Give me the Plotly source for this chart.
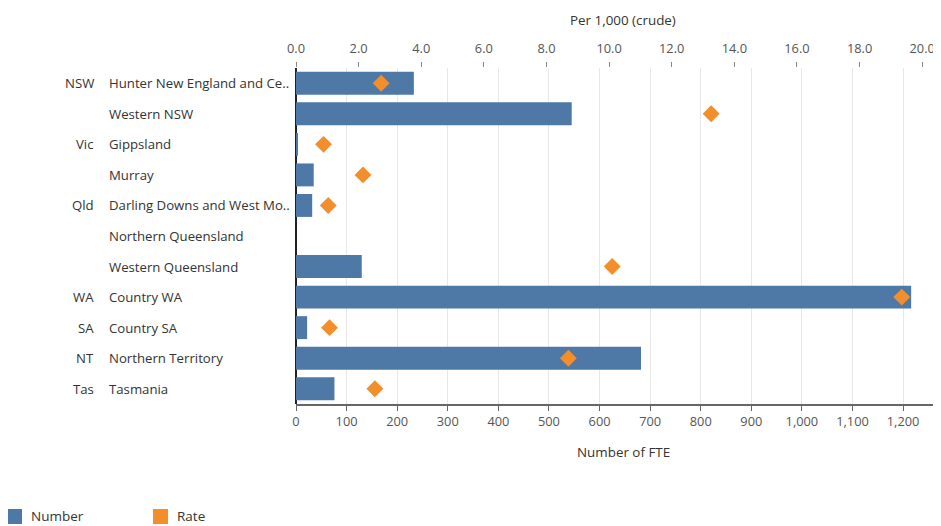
import plotly.graph_objects as go

states = ["NSW", "", "Vic", "", "Qld", "", "", "WA", "SA", "NT", "Tas"]
regions = ["Hunter New England and Ce..", "Western NSW", "Gippsland", "Murray",
           "Darling Downs and West Mo..", "Northern Queensland", "Western Queensland",
           "Country WA", "Country SA", "Northern Territory", "Tasmania"]
number_fte = [233, 545, 3, 35, 32, None, 130, 1216, 22, 682, 76]
rate_per_1000 = [2.72, 13.26, 0.88, 2.14, 1.03, None, 10.1, 19.35, 1.07, 8.7, 2.52]

BLUE = "#4E79A7"
ORANGE = "#F28E2B"
FONT = "Open Sans"

fig = go.Figure()
fig.add_trace(go.Bar(y=regions, x=number_fte, orientation="h", marker_color=BLUE,
                     marker_line_width=0, width=0.75, xaxis="x", yaxis="y",
                     name="Number", showlegend=False))
fig.add_trace(go.Scatter(y=regions, x=rate_per_1000, mode="markers", xaxis="x2", yaxis="y",
                         marker=dict(symbol="diamond", size=13, color=ORANGE),
                         name="Rate", showlegend=False))

# page body has an 8px margin; work in page pixels and convert
OFF = 8
W, H = 941 - OFF, 526 - OFF
L, R, T, B = 296 - OFF, 940 - OFF, 68 - OFF, 404 - OFF
pw = R - L
ph = B - T

def px(xpage):
    return (xpage - OFF - L) / pw

def py(ypage):
    return (B - (ypage - OFF)) / ph

annotations = []
for s, r in zip(states, regions):
    annotations.append(dict(x=px(107), y=r, xref="paper", yref="y", text=r,
                            showarrow=False, xanchor="left", yanchor="middle",
                            font=dict(family=FONT, size=13.2, color="#333")))
    if s:
        annotations.append(dict(x=px(96), y=r, xref="paper", yref="y", text=s,
                                showarrow=False, xanchor="right", yanchor="middle",
                                font=dict(family=FONT, size=13.2, color="#333")))
# axis titles
annotations.append(dict(x=px(623), y=py(20), xref="paper", yref="paper",
                        text="Per 1,000 (crude)", showarrow=False,
                        xanchor="center", yanchor="middle",
                        font=dict(family=FONT, size=13.4, color="#333")))
annotations.append(dict(x=px(623), y=py(452), xref="paper", yref="paper",
                        text="Number of FTE", showarrow=False,
                        xanchor="center", yanchor="middle",
                        font=dict(family=FONT, size=13.4, color="#333")))
# legend
shapes = []
for lx, label, col in [(7, "Number", BLUE), (153, "Rate", ORANGE)]:
    shapes.append(dict(type="rect", xref="paper", yref="paper",
                       x0=px(lx), x1=px(lx + 15),
                       y0=py(524), y1=py(509),
                       fillcolor=col, line_width=0))
    annotations.append(dict(x=px(lx + 22), y=py(516), xref="paper", yref="paper",
                            text=label, showarrow=False, xanchor="left", yanchor="middle",
                            font=dict(family=FONT, size=13.5, color="#333")))

fig.update_layout(
    width=W, height=H,
    margin=dict(l=L, r=W - R, t=T, b=H - B, autoexpand=False),
    plot_bgcolor="white", paper_bgcolor="white",
    xaxis=dict(range=[0, 1273], tickvals=list(range(0, 1300, 100)), tickformat=",d",
               automargin=False,
               showgrid=True, gridcolor="#e8e8e8", gridwidth=1,
               showline=True, linecolor="#666", linewidth=1.5,
               ticks="outside", ticklen=5, tickcolor="#666",
               zeroline=True, zerolinecolor="#222", zerolinewidth=1.5,
               tickfont=dict(family=FONT, size=12.8, color="#555")),
    xaxis2=dict(range=[0, 20.57], overlaying="x", side="top", dtick=2, tickformat=".1f",
                automargin=False,
                showgrid=False, zeroline=False, showline=False,
                ticks="outside", ticklen=5, tickcolor="#888", ticklabelstandoff=4,
                tickfont=dict(family=FONT, size=12.8, color="#555")),
    yaxis=dict(categoryorder="array", categoryarray=regions, range=[10.5, -0.5],
               automargin=False,
               showticklabels=False, showgrid=False, zeroline=False, showline=False),
    annotations=annotations, shapes=shapes,
    showlegend=False,
)

fig.write_html("out.html")
